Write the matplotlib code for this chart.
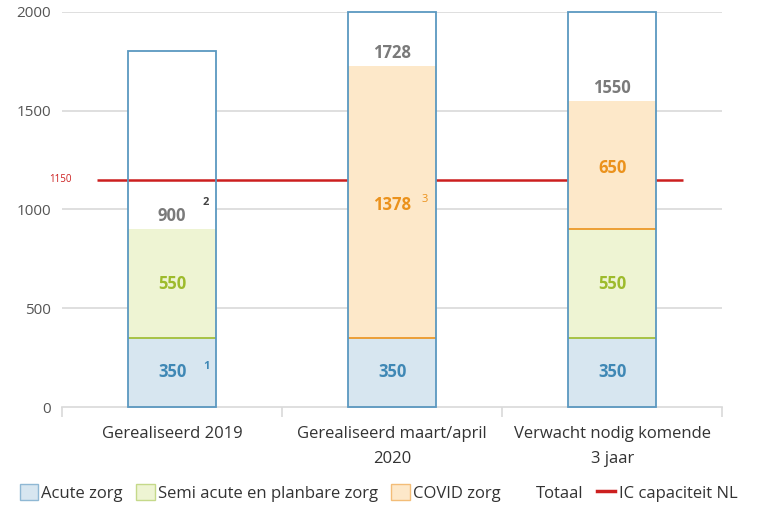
import numpy as np
import matplotlib.pyplot as plt
from matplotlib.patches import Patch
from matplotlib.lines import Line2D

plt.rcParams['font.family'] = ['Open Sans', 'DejaVu Sans']

categories = ["Gerealiseerd 2019", "Gerealiseerd maart/april\n2020", "Verwacht nodig komende\n3 jaar"]
acute = [350, 350, 350]
semi = [550, 0, 550]
covid = [0, 1378, 650]
totaal = [900, 1728, 1550]
box_top = [1800, 2000, 2000]
ic_capacity = 1150
footnotes = ["1", "2", "3"]

c_acute, e_acute = "#d7e6f0", "#3f88b5"
c_semi, e_semi = "#eef4d3", "#9dbb2c"
c_covid, e_covid = "#fde8c9", "#eb921c"
c_red = "#cc1f1f"
c_grey = "#7a7a7a"

x = np.arange(len(categories))
w = 0.4
acute = np.array(acute)
semi = np.array(semi)
covid = np.array(covid)

fig = plt.figure(figsize=(7.57, 5.12), dpi=100)
ax = fig.add_axes([0.082, 0.205, 0.872, 0.772])

for y in [500, 1000, 1500, 2000]:
    ax.axhline(y, color="#d9d9d9", lw=1.2, zorder=0)

# white total boxes (grid hidden behind them)
ax.bar(x, box_top, w, color="white", edgecolor="none", zorder=0.5, clip_on=False)

# IC capacity line, sits behind the coloured segments
ax.hlines(ic_capacity, -0.34, 2.32, color=c_red, lw=1.8, zorder=1)
ax.text(-0.455, ic_capacity, str(ic_capacity), color=c_red, fontsize=7, ha="right", va="center")

ax.bar(x, acute, w, color=c_acute, edgecolor="none", zorder=2)
ax.bar(x, semi, w, bottom=acute, color=c_semi, edgecolor="none", zorder=2)
ax.bar(x, covid, w, bottom=acute + semi, color=c_covid, edgecolor="none", zorder=2)

# separator lines at the bottom of each segment
for i in range(len(x)):
    if semi[i] > 0:
        ax.hlines(acute[i], x[i] - w / 2, x[i] + w / 2, color=e_semi, lw=1.2, zorder=3)
    if covid[i] > 0:
        ax.hlines(acute[i] + semi[i], x[i] - w / 2, x[i] + w / 2, color=e_covid, lw=1.2, zorder=3)

ax.bar(x, box_top, w, fill=False, edgecolor="#5a98c0", lw=1.3, zorder=4, clip_on=False)

# value labels
for i in range(len(x)):
    ax.text(x[i], acute[i] / 2, str(acute[i]), color=e_acute, fontsize=12,
            fontweight="bold", ha="center", va="center", zorder=5)
    if semi[i] > 0:
        ax.text(x[i], acute[i] + semi[i] / 2, str(semi[i]), color=e_semi, fontsize=12,
                fontweight="bold", ha="center", va="center", zorder=5)
    if covid[i] > 0:
        ax.text(x[i], acute[i] + semi[i] + covid[i] / 2 - 15, str(covid[i]), color=e_covid,
                fontsize=12, fontweight="bold", ha="center", va="center", zorder=5)
    ax.text(x[i], totaal[i] + 65, str(totaal[i]), color=c_grey, fontsize=12,
            fontweight="bold", ha="center", va="center", zorder=5)

# footnote markers
ax.text(x[0] + 0.155, 205, footnotes[0], color=e_acute, fontsize=8, fontweight="bold",
        ha="center", va="center", zorder=5)
ax.text(x[0] + 0.155, 1035, footnotes[1], color="#444444", fontsize=8, fontweight="bold",
        ha="center", va="center", zorder=5)
ax.text(x[1] + 0.15, 1048, footnotes[2], color=e_covid, fontsize=8,
        ha="center", va="center", zorder=5)

ax.set_xlim(-0.5, 2.5)
ax.set_ylim(0, 2000)
ax.set_yticks([0, 500, 1000, 1500, 2000])
ax.tick_params(axis="y", length=0, labelsize=11, labelcolor="#555555", pad=8)

ax.set_xticks(x)
ax.set_xticklabels(categories, fontsize=12, color="#333333", linespacing=1.7)
ax.tick_params(axis="x", length=0, pad=14)
ax.set_xticks([-0.5, 0.5, 1.5, 2.5], minor=True)
ax.tick_params(axis="x", which="minor", length=7, color="#d9d9d9", width=1.2)

for s in ["top", "right", "left"]:
    ax.spines[s].set_visible(False)
ax.spines["bottom"].set_color("#d9d9d9")
ax.spines["bottom"].set_linewidth(1.2)

handles = [
    Patch(facecolor=c_acute, edgecolor="#8fb8d4", label="Acute zorg"),
    Patch(facecolor=c_semi, edgecolor="#c5d98a", label="Semi acute en planbare zorg"),
    Patch(facecolor=c_covid, edgecolor="#f3bd78", label="COVID zorg"),
    Patch(facecolor="white", edgecolor="white", label="Totaal"),
    Line2D([0], [0], color=c_red, lw=2.5, label="IC capaciteit NL"),
]
fig.legend(handles=handles, loc="lower center", bbox_to_anchor=(0.5, -0.01), ncol=5,
           frameon=False, fontsize=12, handlelength=1.1, handleheight=1.1, handletextpad=0.2,
           columnspacing=0.8, labelcolor="#333333")

fig.savefig("out.png", dpi=100)
